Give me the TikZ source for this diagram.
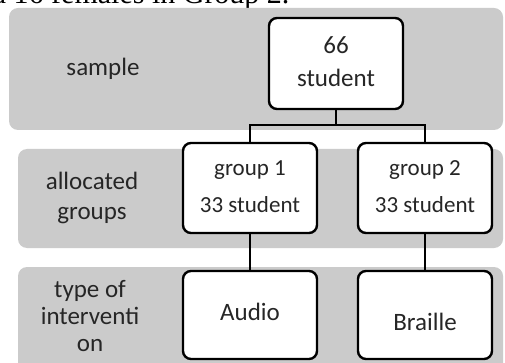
\documentclass[tikz,border=0pt]{standalone}
\usepackage{fontspec}
\setmainfont{Carlito}
\newfontfamily\serifcut{Liberation Serif}
\definecolor{bandgray}{HTML}{CBCBCB}
\begin{document}
\begin{tikzpicture}[x=1pt,y=-1pt,
  band/.style={fill=bandgray, draw=none, rounded corners=9pt},
  box/.style={draw=black, fill=white, line width=2.4pt, rounded corners=8pt, minimum width=134pt, align=center, inner sep=0pt},
  lbl/.style={font=\fontsize{25}{30}\selectfont, align=center, text=black!85},
  boxtxt/.style={font=\fontsize{25}{33}\selectfont, text=black!85},
  conn/.style={draw=black, line width=1.6pt}]
\useasboundingbox (0,0) rectangle (505,363);
\begin{scope}
\clip (0,0) rectangle (505,363);
\node[anchor=base west, inner sep=0pt, font=\serifcut\fontsize{30}{34}\selectfont] (cut) at (-9,4) {d 16 females in Group 2.};
% bands
\fill[band] (9,8) rectangle (503,130);
\fill[band] (18,149) rectangle (503,248);
\fill[band] (18,267) rectangle (503,372);
\end{scope}
% labels
\node[lbl] (lsample) at (103,69) {sample};
\node[lbl, font=\fontsize{25}{30}\selectfont] (lalloc) at (92,198) {allocated\\groups};
\node[lbl, font=\fontsize{25}{27}\selectfont] (ltype) at (90,316) {type of\\interventi\\on};
% boxes
\node[box, minimum height=91pt] (top) at (336,63.5) {};
\node[boxtxt] at (336,45) {66};
\node[boxtxt] at (336,78) {student};
\node[box, minimum height=90pt] (g1) at (250,188) {};
\node[boxtxt, font=\fontsize{23}{30}\selectfont] at (250,170) {group 1};
\node[boxtxt, font=\fontsize{23}{30}\selectfont] at (250,205) {33 student};
\node[box, minimum height=90pt] (g2) at (425,188) {};
\node[boxtxt, font=\fontsize{23}{30}\selectfont] at (425,170) {group 2};
\node[boxtxt, font=\fontsize{23}{30}\selectfont] at (425,205) {33 student};
\node[box, minimum height=88pt] (audio) at (250,315) {};
\node[boxtxt] at (250,312) {Audio};
\node[box, minimum height=88pt] (braille) at (425,315) {};
\node[boxtxt] at (425,322) {Braille};
% connectors
\coordinate (split) at (336,125);
\draw[conn] (top.south) -- (split);
\draw[conn] (g1.north) |- (split) -| (g2.north);
\draw[conn] (g1.south) -- (audio.north);
\draw[conn] (g2.south) -- (braille.north);
\end{tikzpicture}
\end{document}
